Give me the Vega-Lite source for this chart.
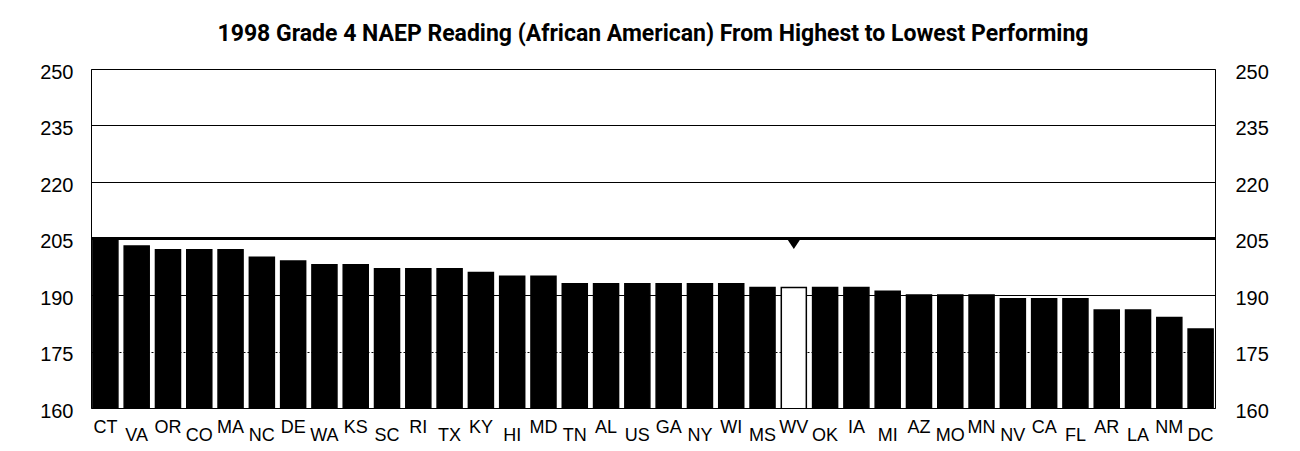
{
  "$schema": "https://vega.github.io/schema/vega-lite/v6.json",
  "width": 1124,
  "height": 339,
  "autosize": {"type": "none"},
  "padding": {"left": 91, "top": 69, "right": 85, "bottom": 43},
  "background": "white",
  "title": {
    "text": "1998 Grade 4 NAEP Reading (African American) From Highest to Lowest Performing",
    "font": "Roboto",
    "fontSize": 23,
    "fontWeight": "bold",
    "color": "black",
    "anchor": "middle",
    "baseline": "alphabetic",
    "offset": -2
  },
  "config": {
    "view": {"stroke": "black", "strokeWidth": 1},
    "axis": {"labelFont": "Liberation Sans", "labelColor": "black"}
  },
  "data": {
    "values": [
      {"state": "CT", "score": 205},
      {"state": "VA", "score": 203},
      {"state": "OR", "score": 202},
      {"state": "CO", "score": 202},
      {"state": "MA", "score": 202},
      {"state": "NC", "score": 200},
      {"state": "DE", "score": 199},
      {"state": "WA", "score": 198},
      {"state": "KS", "score": 198},
      {"state": "SC", "score": 197},
      {"state": "RI", "score": 197},
      {"state": "TX", "score": 197},
      {"state": "KY", "score": 196},
      {"state": "HI", "score": 195},
      {"state": "MD", "score": 195},
      {"state": "TN", "score": 193},
      {"state": "AL", "score": 193},
      {"state": "US", "score": 193},
      {"state": "GA", "score": 193},
      {"state": "NY", "score": 193},
      {"state": "WI", "score": 193},
      {"state": "MS", "score": 192},
      {"state": "WV", "score": 192},
      {"state": "OK", "score": 192},
      {"state": "IA", "score": 192},
      {"state": "MI", "score": 191},
      {"state": "AZ", "score": 190},
      {"state": "MO", "score": 190},
      {"state": "MN", "score": 190},
      {"state": "NV", "score": 189},
      {"state": "CA", "score": 189},
      {"state": "FL", "score": 189},
      {"state": "AR", "score": 186},
      {"state": "LA", "score": 186},
      {"state": "NM", "score": 184},
      {"state": "DC", "score": 181}
    ]
  },
  "resolve": {"axis": {"y": "independent"}},
  "layer": [
    {
      "mark": {"type": "bar", "stroke": "black", "strokeWidth": 1.5, "clip": true},
      "encoding": {
        "x": {
          "field": "state",
          "type": "nominal",
          "sort": null,
          "scale": {"paddingInner": 0.2, "paddingOuter": 0.06},
          "axis": {
            "title": null,
            "labelAngle": 0,
            "labelFontSize": 18,
            "labelPadding": {
              "condition": {
                "test": "indexof(['VA','CO','NC','WA','SC','TX','HI','TN','US','NY','MS','OK','MI','MO','NV','FL','LA','DC'], datum.value) >= 0",
                "value": 18
              },
              "value": 10
            },
            "domain": false,
            "ticks": false,
            "grid": false
          }
        },
        "y": {
          "field": "score",
          "type": "quantitative",
          "scale": {"domain": [160, 250], "zero": false, "nice": false},
          "axis": {
            "orient": "left",
            "title": null,
            "values": [160, 175, 190, 205, 220, 235, 250],
            "labelFontSize": 20,
            "labelPadding": 18,
            "labelOffset": 3,
            "domain": false,
            "ticks": false,
            "grid": true,
            "gridColor": "black",
            "gridOpacity": 1,
            "gridWidth": 1,
            "gridDash": {
              "condition": {"test": "datum.value === 175", "value": [2, 2]},
              "value": []
            }
          }
        },
        "fill": {
          "condition": {"test": "datum.state === 'WV'", "value": "white"},
          "value": "black"
        }
      }
    },
    {
      "mark": {"type": "rule", "color": "black", "strokeWidth": 3},
      "encoding": {
        "y": {
          "datum": 205,
          "type": "quantitative",
          "axis": {
            "orient": "right",
            "title": null,
            "values": [160, 175, 190, 205, 220, 235, 250],
            "labelFontSize": 20,
            "labelPadding": 20,
            "labelOffset": 3,
            "domain": false,
            "ticks": false,
            "grid": false
          }
        }
      }
    },
    {
      "transform": [{"filter": "datum.state === 'WV'"}],
      "mark": {
        "type": "point",
        "shape": "M -1 0 L 1 0 L 0 1.5 Z",
        "size": 196,
        "filled": true,
        "fill": "black",
        "stroke": null,
        "opacity": 1
      },
      "encoding": {
        "x": {"field": "state", "type": "nominal", "sort": null},
        "y": {"datum": 205, "type": "quantitative", "axis": null}
      }
    }
  ]
}
